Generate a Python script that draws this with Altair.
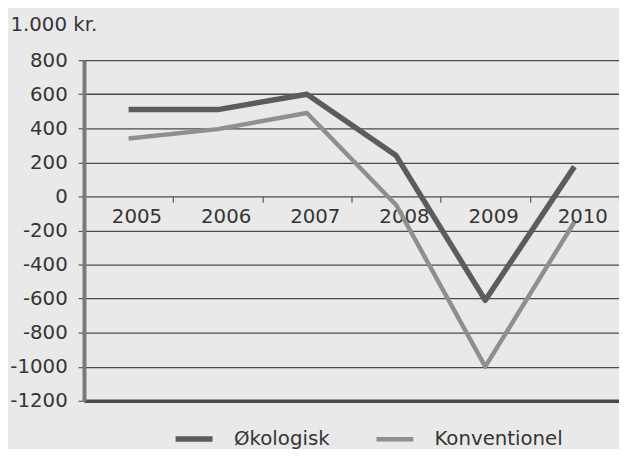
import altair as alt
import pandas as pd

years = ["2005", "2006", "2007", "2008", "2009", "2010"]
okologisk = [510, 510, 600, 240, -610, 175]
konventionel = [340, 395, 490, -50, -1000, -150]
series_names = ["Økologisk", "Konventionel"]
y_ticks = [800, 600, 400, 200, 0, -200, -400, -600, -800, -1000, -1200]

rows = []
for name, vals in zip(series_names, [okologisk, konventionel]):
    for yr, v in zip(years, vals):
        rows.append({"year": yr, "value": v, "serie": name})
df = pd.DataFrame(rows)

FONT = "DejaVu Sans"
TXT = "#353535"

x_enc = alt.X(
    "year:N",
    sort=years,
    bandPosition=0.5,
    scale=alt.Scale(type="band", paddingInner=0, paddingOuter=0),
    axis=alt.Axis(
        title=None,
        orient="bottom",
        offset=-207,
        domain=False,
        tickBand="extent",
        ticks=True,
        tickSize=6,
        tickColor="#555555",
        tickWidth=1.2,
        labelAngle=0,
        labelFontSize=20,
        labelFont=FONT,
        labelColor=TXT,
        labelPadding=4,
        labelOffset=8,
        grid=False,
    ),
)

y_enc = alt.Y(
    "value:Q",
    scale=alt.Scale(domain=[-1200, 800], nice=False, zero=False),
    axis=alt.Axis(
        values=y_ticks,
        title="1.000 kr.",
        titleAngle=0,
        titleX=-75,
        titleY=-30,
        titleAlign="left",
        titleBaseline="alphabetic",
        titleFontSize=20,
        titleFontWeight="normal",
        titleFont=FONT,
        titleColor=TXT,
        labelExpr="'' + datum.value",
        labelFontSize=20,
        labelFont=FONT,
        labelColor=TXT,
        labelPadding=11,
        tickSize=6,
        tickColor="#555555",
        tickWidth=1.2,
        domain=True,
        domainColor="#7a7a7a",
        domainWidth=4,
        grid=True,
        gridColor="#4a4a4a",
        gridWidth={"condition": {"test": "datum.value == -1200", "value": 3.5}, "value": 1.3},
        gridOpacity=1,
    ),
)

chart = (
    alt.Chart(df)
    .mark_line(strokeCap="butt", strokeJoin="round")
    .encode(
        x=x_enc,
        y=y_enc,
        color=alt.Color(
            "serie:N",
            sort=series_names,
            scale=alt.Scale(domain=series_names, range=["#5c5c5c", "#8f8f8f"]),
            legend=alt.Legend(
                title=None,
                orient="none",
                legendX=90,
                legendY=362,
                direction="horizontal",
                symbolType="stroke",
                symbolSize=1400,
                symbolStrokeWidth=6,
                labelFontSize=20,
                labelFont=FONT,
                labelColor=TXT,
                labelOffset=19,
                columnPadding=38,
                padding=0,
            ),
        ),
        strokeWidth=alt.StrokeWidth(
            "serie:N",
            scale=alt.Scale(domain=series_names, range=[5.5, 4.5]),
            legend=None,
        ),
        order=alt.Order("serie:N", sort="ascending"),
    )
    .properties(
        width=542,
        height=345,
        background="#e9e9e9",
        padding={"left": 77, "top": 50, "right": 0, "bottom": 46},
        autosize=alt.AutoSizeParams(type="none"),
    )
    .configure_view(stroke=None)
)

chart.save("out.html", embed_options={"renderer": "svg", "actions": False})
